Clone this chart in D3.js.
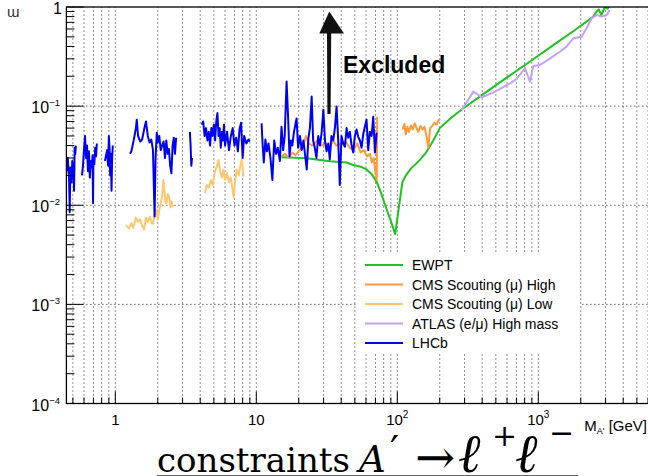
<!DOCTYPE html>
<html>
<head>
<meta charset="utf-8">
<script src="https://cdn.jsdelivr.net/npm/d3@7"></script>
<style>
body { margin: 0; background: #fff; }
svg { display: block; font-family: "Liberation Sans", Arial, sans-serif; }
</style>
</head>
<body>
<svg id="chart" width="648" height="476"></svg>
<script>
// [mass GeV, epsilon], null = gap between pieces
const ewpt = [[15.1,0.0305],[22.8,0.0298],[33.2,0.0278],[43.6,0.027],[48.7,0.0255],[55,0.0245],[60.5,0.023],[66,0.0205],[71.3,0.0173],[76,0.0138],[81,0.0106],[86,0.0083],[91,0.0066],[96.6,0.0051],[108.8,0.0173],[115,0.02],[125,0.0235],[135,0.026],[144.5,0.0287],[160,0.034],[180,0.045],[200,0.06],[240,0.076],[294,0.0953],[400,0.13],[600,0.195],[900,0.29],[1300,0.42],[1800,0.58],[2455,0.8],[2560,0.88],[2680,0.947],[2800,0.83],[2960,1.0],[3100,0.96],[3300,1.1]]

const cmsHigh = [[15.0,0.031],[16,0.033],[17,0.03],[18,0.034],[19,0.032],[20.3,0.036],[21.5,0.04],[22.5,0.05],[23.5,0.042],[25,0.04],[27,0.045],[29,0.04],[31,0.042],[33,0.038],[35,0.045],[37,0.04],[40,0.042],[43,0.044],[46,0.038],[49,0.036],[52,0.042],[55,0.034],[58,0.036],[61,0.031],[64,0.033],[66,0.027],[68,0.03],[70,0.021],[71.5,0.018],[72,0.078],
  null,
  [109,0.058],[112,0.066],[115,0.052],[118,0.062],[121,0.055],[125,0.064],[129,0.058],[133,0.067],[137,0.06],[141,0.055],[146,0.063],[151,0.058],[156,0.062],[161,0.05],[166,0.038],[171,0.06],[177,0.063],[183,0.068],[190,0.065],[196,0.072],[200,0.074]]

const cmsLow = [[1.19,0.0063],[1.25,0.0058],[1.3,0.0066],[1.34,0.0059],[1.4,0.0075],[1.45,0.0068],[1.5,0.0072],[1.55,0.0062],[1.6,0.0057],[1.65,0.0075],[1.7,0.0068],[1.76,0.0077],[1.82,0.0065],[1.86,0.0066],[1.9,0.0082],[1.95,0.009],[2.0,0.0072],[2.05,0.009],[2.1,0.0105],[2.15,0.0125],[2.19,0.018],[2.23,0.014],[2.27,0.0105],[2.31,0.0106],[2.36,0.013],[2.41,0.0122],[2.46,0.0095],[2.5,0.011],[2.55,0.0098],[2.6,0.0101],
  null,
  [4.33,0.0132],[4.45,0.016],[4.6,0.015],[4.75,0.018],[4.9,0.016],[5.05,0.021],[5.24,0.0245],[5.4,0.0285],[5.55,0.022],[5.7,0.019],[5.85,0.023],[6.0,0.018],[6.2,0.021],[6.4,0.017],[6.6,0.019],[6.9,0.012],[7.1,0.018],[7.25,0.023],[7.5,0.02],[7.7,0.025],[7.9,0.029],[8.1,0.0195]]

const atlas = [[286,0.0915],[347,0.14],[397,0.123],[478,0.137],[560,0.155],[630,0.17],[700,0.187],[804,0.241],[873,0.177],[920,0.254],[1025,0.26],[1200,0.3],[1420,0.354],[1583,0.398],[1770,0.483],[2030,0.502],[2200,0.61],[2390,0.769],[2600,0.83],[2800,0.8],[3060,0.83],[3200,0.933]]

const lhcb = [[0.45,0.022],[0.46,0.03],[0.47,0.019],[0.475,0.0085],[0.48,0.024],[0.49,0.017],[0.495,0.028],[0.5,0.021],[0.505,0.026],[0.51,0.014],[0.515,0.038],[0.52,0.033],[0.525,0.04],
  null,
  [0.58,0.02],[0.59,0.025],[0.6,0.037],[0.61,0.05],[0.62,0.03],[0.63,0.04],[0.64,0.022],[0.65,0.035],[0.66,0.019],[0.67,0.028],[0.68,0.024],[0.69,0.032],[0.695,0.0105],[0.7,0.03],[0.71,0.026],[0.72,0.038],[0.73,0.031],[0.74,0.042],
  null,
  [0.845,0.028],[0.86,0.032],[0.875,0.036],[0.89,0.025],[0.9,0.05],[0.91,0.038],[0.92,0.02],[0.93,0.033],[0.94,0.014],[0.95,0.03],[0.96,0.04],
  null,
  [1.27,0.033],[1.3,0.035],[1.35,0.045],[1.4,0.06],[1.42,0.073],[1.45,0.05],[1.5,0.044],[1.55,0.046],[1.6,0.058],[1.65,0.07],[1.7,0.05],[1.75,0.043],[1.8,0.046],[1.85,0.036],[1.9,0.0077],[1.93,0.03],[1.97,0.054],[2.0,0.043],[2.05,0.05],[2.1,0.036],[2.15,0.04],[2.2,0.044],[2.25,0.03],[2.3,0.045],[2.35,0.033],[2.4,0.037],[2.45,0.025],[2.5,0.021],[2.55,0.04],[2.6,0.048],[2.65,0.033],[2.7,0.048],
  null,
  [3.38,0.055],[3.42,0.04],[3.46,0.025],[3.5,0.03],
  null,
  [4.1,0.065],[4.2,0.07],[4.3,0.05],[4.4,0.06],[4.5,0.045],[4.6,0.055],[4.7,0.04],[4.8,0.06],[4.9,0.05],[5.0,0.065],[5.1,0.045],[5.2,0.07],[5.3,0.085],[5.4,0.05],[5.5,0.06],[5.6,0.038],[5.7,0.055],[5.8,0.045],[5.9,0.065],[6.0,0.04],[6.2,0.055],[6.4,0.036],[6.6,0.05],[6.8,0.06],[7.0,0.04],[7.2,0.048],[7.4,0.035],[7.6,0.058],[7.8,0.068],[8.0,0.03],[8.2,0.05],[8.5,0.042],[8.8,0.046],[9.0,0.044],
  null,
  [10.9,0.067],[11.1,0.04],[11.3,0.027],[11.6,0.046],[11.9,0.035],[12.2,0.042],[12.6,0.03],[13.0,0.018],[13.4,0.045],[13.8,0.033],[14.2,0.038],[14.7,0.028],[15.1,0.062],[15.5,0.036],[15.9,0.05],[16.4,0.177],[16.8,0.079],[17.2,0.031],[17.6,0.045],[18.0,0.04],[18.5,0.055],[19.3,0.075],[19.8,0.038],[20.4,0.05],[21.0,0.036],[21.6,0.045],[22.3,0.03],[22.8,0.023],[23.4,0.047],[24.0,0.06],[24.7,0.125],[25.3,0.045],[26.0,0.038],[26.7,0.03],[27.5,0.05],[28.3,0.04],[29.1,0.055],[29.9,0.092],[30.7,0.045],[31.5,0.035],[32.4,0.042],[33.2,0.029],[34.1,0.05],[35.1,0.045],[36.1,0.06],[37.1,0.099],[38.1,0.045],[39.1,0.016],[40.2,0.05],[41.3,0.042],[42.5,0.039],[43.7,0.06],[44.9,0.048],[46.1,0.055],[47.4,0.04],[48.7,0.034],[50.0,0.05],[51.4,0.058],[52.8,0.049],[54.3,0.045],[55.8,0.038],[57.3,0.052],[58.9,0.062],[60.5,0.073],[62.2,0.036],[63.9,0.055],[65.7,0.05],[67.5,0.078],[69.4,0.034],[71.3,0.054]]

const seriesNames = ['EWPT', 'CMS Scouting (\u03bc) High', 'CMS Scouting (\u03bc) Low', 'ATLAS (e/\u03bc) High mass', 'LHCb']
const xLabelValues = [1, 10, 100, 1000]
const yLabelValues = [1, 0.1, 0.01, 0.001, 0.0001]

const series = [ewpt, cmsHigh, cmsLow, atlas, lhcb]
const colors = ['#1ec31e', '#ff9a3a', '#ffc870', '#c4a0f6', '#0000f5']

const pLeft = 66.4, pRight = 679.3, pTop = 7, pBottom = 403.5

const x = d3.scaleLog([0.45, 10000], [pLeft, pRight])
const y = d3.scaleLog([1e-4, 1], [pBottom, pTop])

const svg = d3.select('#chart')

svg.append('clipPath').attr('id', 'plot')
    .append('rect')
    .attr('x', pLeft).attr('y', pTop)
    .attr('width', pRight - pLeft).attr('height', pBottom - pTop)

const isMajor = v => Math.abs(Math.log10(v) - Math.round(Math.log10(v))) < 1e-9

// grid
svg.append('g')
    .selectAll('line')
    .data(x.ticks())
    .join('line')
    .attr('x1', d => x(d)).attr('x2', d => x(d))
    .attr('y1', pBottom).attr('y2', pTop)
    .attr('stroke', '#222')
    .attr('stroke-dasharray', '1 3')

svg.append('g')
    .selectAll('line')
    .data([0.1, 0.01, 0.001])
    .join('line')
    .attr('x1', pLeft).attr('x2', pRight)
    .attr('y1', d => y(d)).attr('y2', d => y(d))
    .attr('stroke', '#222')
    .attr('stroke-dasharray', '1 3')

// curves
const line = d3.line()
    .defined(d => d !== null)
    .x(d => x(d[0]))
    .y(d => y(d[1]))

svg.append('g')
    .attr('clip-path', 'url(#plot)')
    .selectAll('path')
    .data(series)
    .join('path')
    .attr('d', line)
    .attr('fill', 'none')
    .attr('stroke', (d, i) => colors[i])
    .attr('stroke-width', 2)
    .attr('stroke-linejoin', 'round')

// frame and ticks
svg.append('rect')
    .attr('x', pLeft).attr('y', pTop)
    .attr('width', pRight - pLeft).attr('height', pBottom - pTop)
    .attr('fill', 'none')
    .attr('stroke', '#000')
    .attr('stroke-width', 1.3)

svg.append('g')
    .selectAll('line')
    .data(x.ticks())
    .join('line')
    .attr('x1', d => x(d)).attr('x2', d => x(d))
    .attr('y1', pBottom)
    .attr('y2', d => pBottom - (isMajor(d) ? 12 : 6))
    .attr('stroke', '#000')

svg.append('g')
    .selectAll('line')
    .data(y.ticks())
    .join('line')
    .attr('y1', d => y(d)).attr('y2', d => y(d))
    .attr('x1', pLeft)
    .attr('x2', d => pLeft + (isMajor(d) ? 17 : 8))
    .attr('stroke', '#000')

// tick labels
const xLab = svg.append('g')
    .selectAll('text')
    .data(xLabelValues)
    .join('text')
    .attr('x', d => x(d))
    .attr('y', 424.5)
    .attr('text-anchor', 'middle')
    .attr('font-size', '15px')
xLab.append('tspan').text(d => d < 100 ? String(d) : '10')
xLab.filter(d => d >= 100).append('tspan')
    .text(d => String(Math.round(Math.log10(d))))
    .attr('font-size', '10px')
    .attr('dy', -7)

const yLab = svg.append('g')
    .selectAll('text')
    .data(yLabelValues)
    .join('text')
    .attr('x', d => d === 1 ? 62 : 60)
    .attr('y', d => y(d) + 7)
    .attr('text-anchor', 'end')
    .attr('font-size', '16px')
yLab.append('tspan').text(d => d === 1 ? '1' : '10')
yLab.filter(d => d < 1).append('tspan')
    .text(d => '\u2212' + Math.round(-Math.log10(d)))
    .attr('font-size', '9.5px')
    .attr('dy', -7)

// axis titles
svg.append('text')
    .text('\u026f')
    .attr('x', 7).attr('y', 17)
    .attr('font-size', '15px')
    .attr('fill', '#333')

const xt = svg.append('text')
    .attr('x', 647).attr('y', 431)
    .attr('text-anchor', 'end')
    .attr('font-size', '15px')
xt.append('tspan').text('M')
xt.append('tspan').text('A\'').attr('font-size', '9px').attr('dy', 3)
xt.append('tspan').text(' [GeV]').attr('dy', -3)

// Excluded arrow
const arrow = svg.append('g').attr('fill', '#111')
arrow.append('path').attr('d', 'M327.4,114 L330.6,114 L331.2,33 L327,33 Z')
arrow.append('path').attr('d', 'M319.3,33.5 L329.3,11.5 L344,33.5 Z')

svg.append('text')
    .text('Excluded')
    .attr('x', 343).attr('y', 73)
    .attr('font-size', '23px')
    .attr('font-weight', 'bold')

// legend
svg.append('rect')
    .attr('x', 358).attr('y', 254)
    .attr('width', 222).attr('height', 100)
    .attr('fill', '#fff')

const leg = svg.append('g')
    .selectAll('g')
    .data(seriesNames)
    .join('g')
    .attr('transform', (d, i) => `translate(365, ${265 + 19.5 * i})`)
leg.append('line')
    .attr('x1', 0).attr('x2', 38)
    .attr('stroke', (d, i) => colors[i])
    .attr('stroke-width', 2)
leg.append('text')
    .text(d => d)
    .attr('x', 47).attr('y', 5)
    .attr('font-size', '14px')

// caption
const cap = svg.append('g')
    .attr('font-family', '"DejaVu Serif", serif')
    .attr('font-size', '34px')
cap.append('text').text('constraints').attr('x', 157).attr('y', 472)
cap.append('text').text('A').attr('x', 359).attr('y', 472).attr('font-style', 'italic').attr('font-size', '37px')
cap.append('text').text('\u2032').attr('x', 390).attr('y', 464).attr('font-size', '40px')
cap.append('text').text('\u2192').attr('x', 415).attr('y', 474).attr('font-size', '48px')
cap.append('text').text('\u2113').attr('x', 458).attr('y', 472).attr('font-size', '54px').attr('font-style', 'italic')
cap.append('text').text('+').attr('x', 492).attr('y', 446).attr('font-size', '30px')
cap.append('text').text('\u2113').attr('x', 515).attr('y', 472).attr('font-size', '54px').attr('font-style', 'italic')
cap.append('text').text('\u2212').attr('x', 549).attr('y', 443).attr('font-size', '30px')
svg.append('line')
    .attr('x1', 157).attr('x2', 578)
    .attr('y1', 475.5).attr('y2', 475.5)
    .attr('stroke', '#666')
</script>
</body>
</html>
